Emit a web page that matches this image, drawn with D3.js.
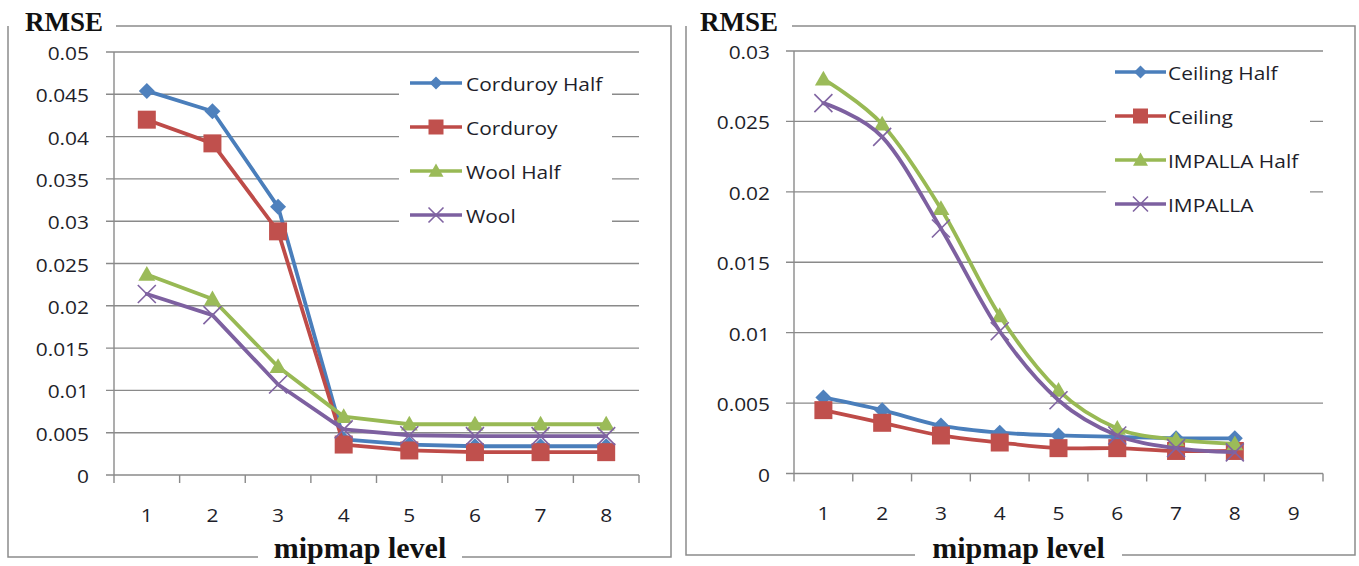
<!DOCTYPE html>
<html><head><meta charset="utf-8">
<script src="https://cdn.jsdelivr.net/npm/d3@7"></script>
<style>body{margin:0;background:#fff}svg{display:block}</style>
</head><body>
<svg id="c" width="1359" height="566"></svg>
<script>
// ---------- data ----------
const levelsLeft = [1, 2, 3, 4, 5, 6, 7, 8];
const levelsRight = [1, 2, 3, 4, 5, 6, 7, 8, 9];
const yTicksLeft = [0, 0.005, 0.01, 0.015, 0.02, 0.025, 0.03, 0.035, 0.04, 0.045, 0.05];
const yTickLabelsLeft = ["0", "0.005", "0.01", "0.015", "0.02", "0.025", "0.03", "0.035", "0.04", "0.045", "0.05"];
const yTicksRight = [0, 0.005, 0.01, 0.015, 0.02, 0.025, 0.03];
const yTickLabelsRight = ["0", "0.005", "0.01", "0.015", "0.02", "0.025", "0.03"];
const namesLeft = ["Corduroy Half", "Corduroy", "Wool Half", "Wool"];
const namesRight = ["Ceiling Half", "Ceiling", "IMPALLA Half", "IMPALLA"];
const corduroyHalf = [0.0454, 0.0430, 0.0317, 0.0042, 0.0036, 0.0034, 0.0034, 0.0034];
const corduroy     = [0.0420, 0.0392, 0.0288, 0.0036, 0.0029, 0.0027, 0.0027, 0.0027];
const woolHalf     = [0.0237, 0.0208, 0.0128, 0.0069, 0.0060, 0.0060, 0.0060, 0.0060];
const wool         = [0.0214, 0.0189, 0.0107, 0.0054, 0.0047, 0.0046, 0.0046, 0.0046];
const ceilingHalf  = [0.0054, 0.0045, 0.0034, 0.0029, 0.0027, 0.0026, 0.0025, 0.0025];
const ceiling      = [0.0045, 0.0036, 0.0027, 0.0022, 0.0018, 0.0018, 0.0016, 0.0016];
const impallaHalf  = [0.0280, 0.0248, 0.0188, 0.0112, 0.0059, 0.0032, 0.0024, 0.0021];
const impalla      = [0.0263, 0.0239, 0.0174, 0.0101, 0.0052, 0.0027, 0.0018, 0.0015];
const xTitle = "mipmap level";
const yTitle = "RMSE";

// ---------- styles ----------
const seriesStyles = [
  {line: "#4A7EBB", fill: "#4F81BD", marker: "diamond"},
  {line: "#BE4B48", fill: "#C0504D", marker: "square"},
  {line: "#98B954", fill: "#9BBB59", marker: "triangle"},
  {line: "#7D60A0", fill: "#8064A2", marker: "x"}
];
const SANS = "'Open Sans', 'DejaVu Sans', sans-serif";
const SERIF = "'Liberation Serif', 'DejaVu Serif', serif";
const TEXT = "#1e1e2a";
const GRID = "#8a8a8a";
const svg = d3.select("#c");

function markerPath(kind, s) {
  if (kind === "diamond") return `M0,${-s}L${s},0L0,${s}L${-s},0Z`;
  if (kind === "square") return `M${-s},${-s}H${s}V${s}H${-s}Z`;
  if (kind === "triangle") return `M0,${-s}L${s},${s*0.75}L${-s},${s*0.75}Z`;
  return `M${-s},${-s}L${s},${s}M${-s},${s}L${s},${-s}`;
}
function drawMarker(g, kind, st, x, y, small) {
  const sizes = small ? {diamond: 6.5, square: 7.5, triangle: 7.5, x: 7.5}
                      : {diamond: 8, square: 9, triangle: 8.5, x: 9};
  const p = g.append("path").attr("d", markerPath(kind, sizes[kind]))
    .attr("transform", `translate(${x},${y})`);
  if (kind === "x") p.attr("fill", "none").attr("stroke", st.fill).attr("stroke-width", 1.6);
  else p.attr("fill", st.fill).attr("stroke", "none");
}
function sansText(g, x, y, str, anchor) {
  g.append("text").attr("transform", `translate(${x},${y}) scale(1.1,1)`)
    .attr("text-anchor", anchor).attr("font-family", SANS).attr("font-size", 19)
    .attr("fill", TEXT).text(str);
}

function drawChart(cfg, levels, yTicks, yLabels, names, seriesData) {
  const g = svg.append("g");
  const x = d3.scaleBand().domain(levels).range([cfg.px0, cfg.px1]);
  const y = d3.scaleLinear().domain([0, yTicks[yTicks.length - 1]]).range([cfg.py0, cfg.py1]);

  // frame
  const f = cfg.frame;
  g.append("path")
    .attr("d", `M${f.topStart},${f.top}H${f.right}V${f.bottom}H${f.gapR}M${f.gapL},${f.bottom}H${f.left}V${f.top}`)
    .attr("fill", "none").attr("stroke", "#8c8c8c").attr("stroke-width", 1.5);
  g.append("text").attr("x", cfg.titleX).attr("y", 31).attr("font-family", SERIF)
    .attr("font-weight", "bold").attr("font-size", 27).attr("fill", "#111").text(yTitle);
  g.append("text").attr("x", (f.gapL + f.gapR) / 2).attr("y", cfg.xTitleY).attr("text-anchor", "middle")
    .attr("font-family", SERIF).attr("font-weight", "bold").attr("font-size", 30)
    .attr("fill", "#111").text(xTitle);

  // gridlines + y labels
  yTicks.forEach((v, i) => {
    g.append("line").attr("x1", cfg.px0 - 8).attr("x2", cfg.px1)
      .attr("y1", y(v)).attr("y2", y(v)).attr("stroke", GRID).attr("stroke-width", 1.4);
    sansText(g, cfg.labelX, y(v) + 8, yLabels[i], "end");
  });
  // y axis
  g.append("line").attr("x1", cfg.px0).attr("x2", cfg.px0).attr("y1", y(yTicks[yTicks.length-1]))
    .attr("y2", y(0)).attr("stroke", GRID).attr("stroke-width", 1.4);
  // x ticks
  const bounds = levels.map(d => x(d)).concat([cfg.px1]);
  bounds.forEach(bx => {
    g.append("line").attr("x1", bx).attr("x2", bx).attr("y1", y(0)).attr("y2", y(0) + 8)
      .attr("stroke", GRID).attr("stroke-width", 1.4);
  });
  levels.forEach(d => sansText(g, x(d) + x.bandwidth() / 2, cfg.xLabelY, String(d), "middle"));

  // legend (white box hides gridlines)
  const L = cfg.legend;
  g.append("rect").attr("x", L.boxX).attr("y", L.boxY).attr("width", L.boxW).attr("height", L.boxH)
    .attr("fill", "#fff");
  names.forEach((n, i) => {
    const st = seriesStyles[i];
    const ry = L.y0 + i * 44;
    g.append("line").attr("x1", L.x0).attr("x2", L.x1).attr("y1", ry).attr("y2", ry)
      .attr("stroke", st.line).attr("stroke-width", 3.5);
    drawMarker(g, st.marker, st, (L.x0 + L.x1) / 2, ry, true);
    sansText(g, L.textX, ry + 8, n, "start");
  });

  // series
  const cx = d => x(d) + x.bandwidth() / 2;
  seriesData.forEach((vals, i) => {
    const st = seriesStyles[i];
    const pts = vals.map((v, j) => [cx(levels[j]), y(v)]);
    const line = d3.line().curve(cfg.smooth ? d3.curveCardinal.tension(0) : d3.curveLinear);
    g.append("path").attr("d", line(pts)).attr("fill", "none").attr("stroke", st.line)
      .attr("stroke-width", 3.8).attr("stroke-linejoin", "round").attr("stroke-linecap", "round");
    pts.forEach(p => drawMarker(g, st.marker, st, p[0], p[1], false));
  });
}

drawChart({
  px0: 114, px1: 639, py0: 475, py1: 52, labelX: 89, xLabelY: 522, titleX: 25, xTitleY: 558,
  smooth: false,
  frame: {left: 8, top: 26, right: 671, bottom: 557, topStart: 116, gapL: 258, gapR: 462},
  legend: {boxX: 399, boxY: 60, boxW: 213, boxH: 180, x0: 410, x1: 462, textX: 466, y0: 83}
}, levelsLeft, yTicksLeft, yTickLabelsLeft, namesLeft, [corduroyHalf, corduroy, woolHalf, wool]);

drawChart({
  px0: 794, px1: 1323, py0: 473.5, py1: 51, labelX: 770, xLabelY: 520, titleX: 700, xTitleY: 558,
  smooth: true,
  frame: {left: 686, top: 26, right: 1355, bottom: 555, topStart: 792, gapL: 915, gapR: 1122},
  legend: {boxX: 1106, boxY: 56, boxW: 204, boxH: 170, x0: 1115, x1: 1166, textX: 1168, y0: 72}
}, levelsRight, yTicksRight, yTickLabelsRight, namesRight, [ceilingHalf, ceiling, impallaHalf, impalla]);
</script>
</body></html>
